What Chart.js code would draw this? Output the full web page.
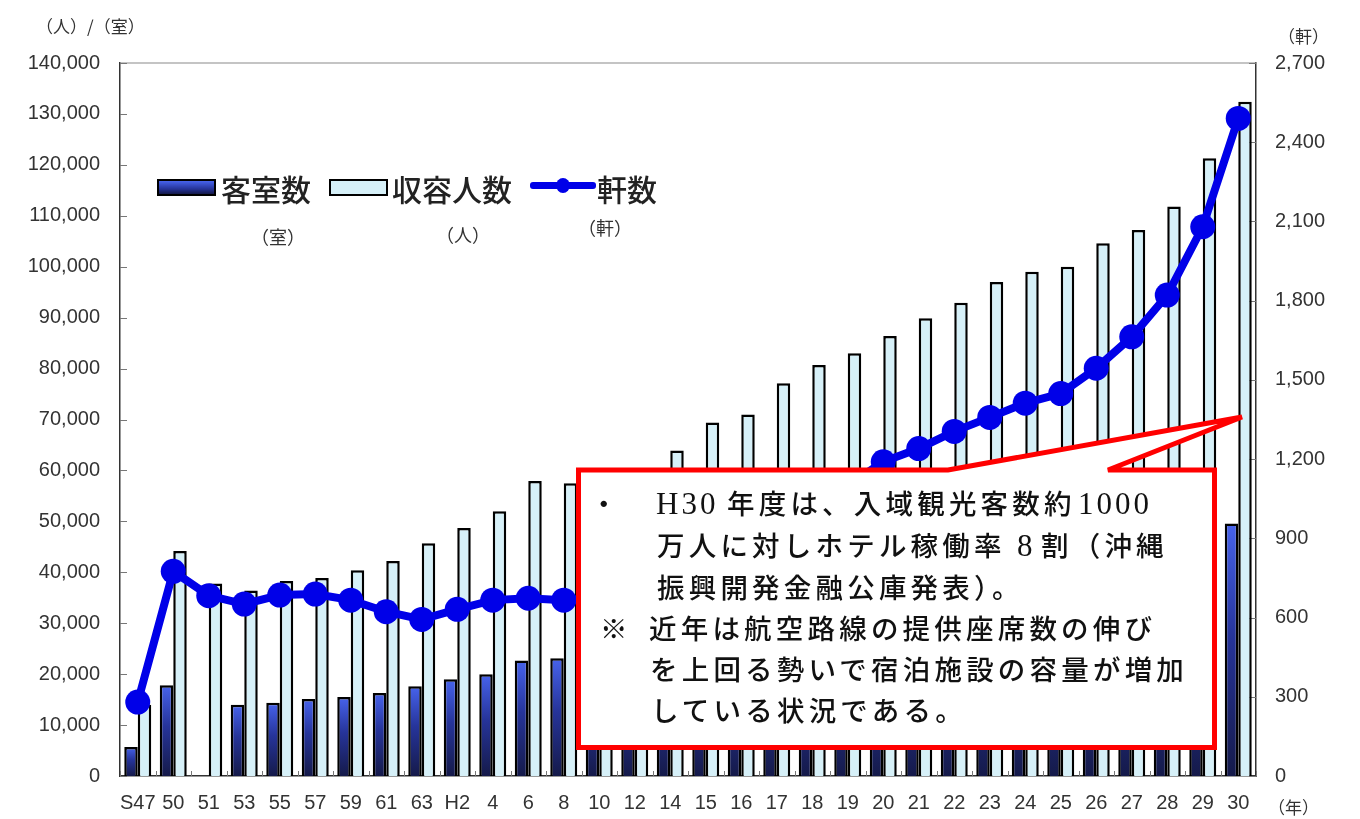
<!DOCTYPE html>
<html>
<head>
<meta charset="utf-8">
<script src="https://cdn.jsdelivr.net/npm/chart.js@4.4.1/dist/chart.umd.min.js"></script>
<style>
html,body{margin:0;padding:0;background:#fff;}
#wrap{position:relative;width:1360px;height:819px;overflow:hidden;font-family:"Noto Sans CJK JP","Noto Sans",sans-serif;}
#chartBox{position:absolute;left:0;top:0;width:1360px;height:819px;}
.t{position:absolute;white-space:nowrap;color:#222;line-height:1;transform:translateY(-50%);}
.unit{font-size:17px;color:#333;}
.leg{font-size:30px;font-weight:500;color:#222;}
.sub{font-size:18px;color:#333;}
.note{position:absolute;white-space:nowrap;color:#111;line-height:1;transform:translateY(-50%);font-size:27.5px;letter-spacing:4.2px;font-weight:500;}
.serif{font-family:"Liberation Serif","DejaVu Serif",serif;font-size:31px;letter-spacing:3px;font-weight:400;}
</style>
</head>
<body>
<div id="wrap">
  <div id="chartBox"><canvas id="c"></canvas></div>
  <div id="legend"></div>
  <div class="t unit" style="left:36px;top:25px;">（人）/（室）</div>
  <div class="t unit" style="left:1278px;top:35px;">（軒）</div>
  <div class="t unit" style="left:1268px;top:806px;">（年）</div>
  <svg style="position:absolute;left:0;top:0;" width="1360" height="819">
    <path d="M578.5,470 L948,470 L1242,417 L1108,470 L1214.5,470 L1214.5,747.5 L578.5,747.5 Z"
          fill="#ffffff" stroke="#ff0000" stroke-width="5" stroke-linejoin="miter" stroke-miterlimit="4"/>
  </svg>
  <div class="note" style="left:590px;top:503px;">・</div>
  <div class="note serif" style="left:656px;top:503px;">H30</div>
  <div class="note" style="left:727px;top:503px;">年度は、入域観光客数約</div>
  <div class="note serif" style="left:1078px;top:503px;">1000</div>
  <div class="note" style="left:657px;top:545px;">万人に対しホテル稼働率</div>
  <div class="note serif" style="left:1017px;top:545px;">8</div>
  <div class="note" style="left:1041px;top:545px;">割（沖縄</div>
  <div class="note" style="left:657px;top:587px;">振興開発金融公庫発表）。</div>
  <div class="note" style="left:600px;top:628px;">※</div>
  <div class="note" style="left:649px;top:628px;">近年は航空路線の提供座席数の伸び</div>
  <div class="note" style="left:650px;top:669px;">を上回る勢いで宿泊施設の容量が増加</div>
  <div class="note" style="left:651px;top:710px;">している状況である。</div>
</div>
<script>
// ---- data ----
const categories = ['S47','50','51','53','55','57','59','61','63','H2','4','6','8','10','12','14','15','16','17','18','19','20','21','22','23','24','25','26','27','28','29','30'];
const roomCounts = [5700,17800,null,14000,14400,15100,15500,16300,17600,19000,20000,22700,23100,24500,25800,27600,29200,29900,31800,32900,33600,34600,35600,36700,37800,38600,39000,40300,41300,43400,46500,49600];
const capacityCounts = [14000,44200,37800,36400,38300,38900,40400,42200,45700,48700,52000,57900,57500,59000,60000,63900,69400,71000,77100,80700,83000,86400,89900,92900,97000,99000,100000,104600,107200,111800,121300,132400];
const facilityCounts = [280,775,683,651,685,689,666,622,593,631,666,673,666,675,720,800,850,900,960,1030,1100,1190,1240,1305,1358,1412,1448,1544,1663,1821,2080,2490];
const seriesNames = ['客室数','収容人数','軒数'];
const seriesUnits = ['（室）','（人）','（軒）'];
const leftTicks = {min:0, max:140000, step:10000};
const rightTicks = {min:0, max:2700, step:300};

const LINE_BLUE = '#0000e8';
const LIGHT_FILL = '#d6f0f8';

function darkGradient(ctx){
  const chart = ctx.chart;
  const ca = chart.chartArea;
  if (!ca || ctx.raw == null) return '#2a3590';
  const ys = chart.scales.y;
  const top = ys.getPixelForValue(ctx.raw);
  const bot = ys.getPixelForValue(0);
  if (!isFinite(top) || !isFinite(bot) || top === bot) return '#2a3590';
  const g = chart.ctx.createLinearGradient(0, bot, 0, top);
  g.addColorStop(0, '#151a4a');
  g.addColorStop(0.55, '#26349a');
  g.addColorStop(1, '#4763ec');
  return g;
}

const framePlugin = {
  id: 'frame',
  beforeDatasetsDraw(chart){
    const {ctx, chartArea:ca, scales} = chart;
    ctx.save();
    ctx.strokeStyle = '#8a8a8a';
    ctx.lineWidth = 1.2;
    ctx.beginPath(); ctx.moveTo(ca.left, ca.top); ctx.lineTo(ca.right, ca.top); ctx.stroke();
    ctx.strokeStyle = '#777';
    ctx.lineWidth = 1;
    scales.y.ticks.forEach((t,i)=>{
      const y = Math.round(scales.y.getPixelForTick(i)) + 0.5;
      ctx.beginPath(); ctx.moveTo(ca.left, y); ctx.lineTo(ca.left + 7, y); ctx.stroke();
    });
    scales.y1.ticks.forEach((t,i)=>{
      const y = Math.round(scales.y1.getPixelForTick(i)) + 0.5;
      ctx.beginPath(); ctx.moveTo(ca.right, y); ctx.lineTo(ca.right - 7, y); ctx.stroke();
    });
    const xs = scales.x;
    for (let i = 0; i <= categories.length; i++){
      const x = Math.round(xs.getPixelForValue(i - 0.5)) + 0.5;
      ctx.beginPath(); ctx.moveTo(x, ca.bottom); ctx.lineTo(x, ca.bottom - 5); ctx.stroke();
    }
    ctx.restore();
  }
};

const tickFont = {family: '"Liberation Sans", Arial, sans-serif', size: 20};

const chart = new Chart(document.getElementById('c'), {
  type: 'bar',
  data: {
    labels: categories,
    datasets: [
      {
        type: 'line', label: seriesNames[2], data: facilityCounts, yAxisID: 'y1', order: 0,
        borderColor: LINE_BLUE, backgroundColor: LINE_BLUE, borderWidth: 8,
        pointRadius: 12.5, pointHoverRadius: 12.5, pointBackgroundColor: LINE_BLUE, pointBorderWidth: 0,
        tension: 0, fill: false
      },
      {
        label: seriesNames[0], data: roomCounts, yAxisID: 'y', order: 1,
        backgroundColor: darkGradient, borderColor: '#000', borderWidth: 2.5,
        categoryPercentage: 0.76, barPercentage: 1.0
      },
      {
        label: seriesNames[1], data: capacityCounts, yAxisID: 'y', order: 2,
        backgroundColor: LIGHT_FILL, borderColor: '#000', borderWidth: 2.5,
        categoryPercentage: 0.76, barPercentage: 1.0
      }
    ]
  },
  options: {
    responsive: true,
    maintainAspectRatio: false,
    animation: false,
    layout: {padding: {top: 63, bottom: 0, left: 0, right: 0}},
    plugins: {legend: {display: false}, tooltip: {enabled: false}},
    scales: {
      x: {
        grid: {display: false, drawTicks: false},
        border: {display: true, color: '#333', width: 1.5},
        ticks: {color: '#333', font: tickFont, padding: 15, maxRotation: 0, autoSkip: false},
        afterFit(s){ s.height = 43; }
      },
      y: {
        position: 'left', min: leftTicks.min, max: leftTicks.max,
        grid: {display: false, drawTicks: false},
        border: {display: true, color: '#333', width: 1.5},
        ticks: {stepSize: leftTicks.step, color: '#333', font: tickFont, padding: 20,
                callback: v => v.toLocaleString('en-US')},
        afterFit(s){ s.width = 120; }
      },
      y1: {
        position: 'right', min: rightTicks.min, max: rightTicks.max,
        grid: {display: false, drawTicks: false},
        border: {display: true, color: '#333', width: 1.5},
        ticks: {stepSize: rightTicks.step, color: '#333', font: tickFont, padding: 19,
                callback: v => v.toLocaleString('en-US')},
        afterFit(s){ s.width = 104; }
      }
    }
  },
  plugins: [framePlugin]
});

// ---- HTML legend built from the datasets ----
(function buildLegend(){
  const lg = document.getElementById('legend');
  const ds = chart.data.datasets;
  const dark = ds[1], light = ds[2], line = ds[0];
  const html = [];
  html.push('<div style="position:absolute;left:157px;top:179px;width:55px;height:13px;border:2px solid #000;background:linear-gradient(#4763ec,#26349a 60%,#151a4a);"></div>');
  html.push('<div class="t leg" style="left:221px;top:188px;">'+dark.label+'</div>');
  html.push('<div class="t sub" style="left:251px;top:236px;">'+seriesUnits[0]+'</div>');
  html.push('<div style="position:absolute;left:329px;top:179px;width:55px;height:13px;border:2px solid #000;background:'+LIGHT_FILL+';"></div>');
  html.push('<div class="t leg" style="left:392px;top:188px;">'+light.label+'</div>');
  html.push('<div class="t sub" style="left:436px;top:234px;">'+seriesUnits[1]+'</div>');
  html.push('<div style="position:absolute;left:530px;top:182px;width:66px;height:7px;background:'+LINE_BLUE+';border-radius:3px;"></div>');
  html.push('<div style="position:absolute;left:556px;top:178px;width:14px;height:15px;background:'+LINE_BLUE+';border-radius:50%;"></div>');
  html.push('<div class="t leg" style="left:597px;top:188px;">'+line.label+'</div>');
  html.push('<div class="t sub" style="left:578px;top:227px;">'+seriesUnits[2]+'</div>');
  lg.innerHTML = html.join('');
})();
</script>
</body>
</html>
